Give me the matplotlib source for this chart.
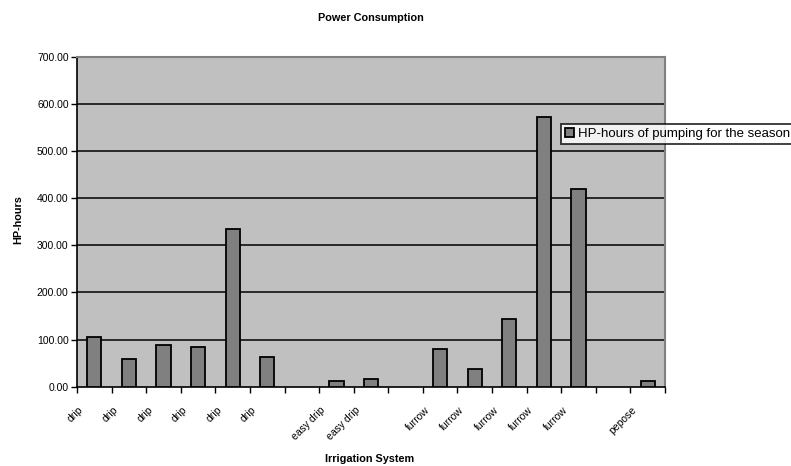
import matplotlib
matplotlib.use("Agg")
import matplotlib.pyplot as plt
from matplotlib.transforms import ScaledTranslation
import numpy as np

plt.rcParams['font.family'] = ['Liberation Sans', 'DejaVu Sans']

categories = ["drip", "drip", "drip", "drip", "drip", "drip", "",
              "easy drip", "easy drip", "",
              "furrow", "furrow", "furrow", "furrow", "furrow", "",
              "pepose"]
values = [105, 59, 89, 85, 335, 63, np.nan,
          13, 17, np.nan,
          81, 38, 144, 572, 419, np.nan,
          13]
y_ticks = [0, 100, 200, 300, 400, 500, 600, 700]
series_name = "HP-hours of pumping for the season"

fig = plt.figure(figsize=(7.91, 4.66), dpi=100)
ax = fig.add_axes([77/791, 1-386.7/466, (665-77)/791, (386.7-56.7)/466])
ax.set_facecolor("#C0C0C0")

n = len(categories)
x = np.arange(n) + 0.5
vals = np.array(values, dtype=float)
mask = ~np.isnan(vals)
bars = ax.bar(x[mask], vals[mask], width=0.41, color="#808080",
              edgecolor="black", linewidth=1.3, zorder=3, label=series_name)

ax.set_xlim(0, n)
ax.set_ylim(0, 700)
ax.set_yticks(y_ticks)
ax.set_yticklabels([f"{v:.2f}" for v in y_ticks], fontsize=7.5)
for v in y_ticks[1:]:
    ax.axhline(v, color="black", linewidth=1.1, zorder=1)

ax.set_xticks(np.arange(n + 1))
ax.set_xticklabels([])
ax.set_xticks(x, minor=True)
ax.set_xticklabels(categories, minor=True, rotation=45, ha="right",
                   va="center", rotation_mode="anchor", fontsize=7.5)
ax.tick_params(axis="x", which="minor", length=0, pad=15.5)
ax.tick_params(axis="x", which="major", direction="out", length=4, width=1)
ax.tick_params(axis="y", direction="out", length=4, width=1, pad=2)
off = ScaledTranslation(-9/72, 0, fig.dpi_scale_trans)
for lab in ax.get_xticklabels(minor=True):
    lab.set_transform(lab.get_transform() + off)

for side in ["top", "right"]:
    ax.spines[side].set_color("#808080")
    ax.spines[side].set_linewidth(1.5)
for side in ["left", "bottom"]:
    ax.spines[side].set_color("black")
    ax.spines[side].set_linewidth(1.2)

fig.text(371/791, 1-18/466, "Power Consumption", ha="center", va="center",
         fontsize=7.8, fontweight="bold")
fig.text(370/791, 1-459/466, "Irrigation System", ha="center", va="center",
         fontsize=7.8, fontweight="bold")
fig.text(18/791, 1-220/466, "HP-hours", ha="center", va="center",
         rotation=90, fontsize=7.8, fontweight="bold")

leg = fig.legend(handles=[bars], labels=[series_name], loc="upper left",
                 bbox_to_anchor=(561/791, 1-124/466), fontsize=9.5,
                 frameon=True, fancybox=False, borderpad=0.3,
                 handlelength=0.7, handleheight=0.7, handletextpad=0.3,
                 borderaxespad=0)
leg.get_frame().set_edgecolor("black")
leg.get_frame().set_linewidth(1.3)

fig.savefig("out.png", dpi=100)
